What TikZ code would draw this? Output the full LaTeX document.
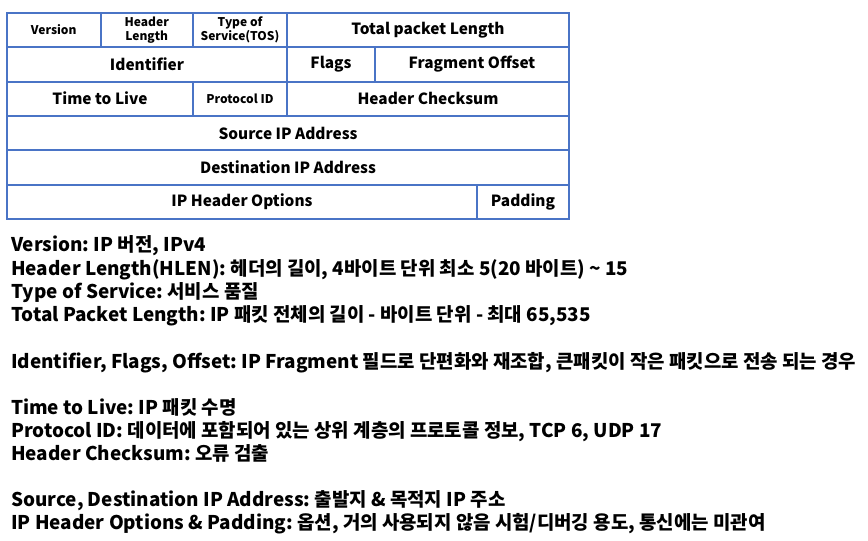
\documentclass[tikz,border=0pt]{standalone}
\usepackage{fontspec}
\setmainfont{Noto Sans CJK KR}
\usepackage{xcolor}
\definecolor{fieldblue}{HTML}{4A74C6}
\usepackage{tikz}
\usetikzlibrary{positioning}
\frenchspacing

\begin{document}
\begin{tikzpicture}[x=1pt, y=-1pt,
  cell/.style={draw=fieldblue, line width=2pt, minimum height=34.4pt,
               inner sep=0pt, outer sep=0pt, align=center,
               font=\bfseries\fontsize{15.4}{16}\selectfont},
  small/.style={font=\bfseries\fontsize{12}{13.5}\selectfont},
  note/.style={anchor=base west, inner sep=0pt,
               font=\bfseries\fontsize{18.9}{20}\selectfont}]
  \useasboundingbox (0,0) rectangle (868,541);

  % header rows
  \node[cell, small, minimum width=93.5pt, anchor=north west] (ver) at (7,12.7) {Version};
  \node[cell, small, minimum width=92.5pt, right=0pt of ver] (hlen) {Header\\Length};
  \node[cell, small, minimum width=94pt, right=0pt of hlen] (tos) {Type of\\Service(TOS)};
  \node[cell, minimum width=282pt, right=0pt of tos] (total) {Total packet Length};

  \node[cell, minimum width=280pt, below=0pt of ver.south west, anchor=north west] (ident) {Identifier};
  \node[cell, minimum width=88pt, right=0pt of ident] (flags) {Flags};
  \node[cell, minimum width=194pt, right=0pt of flags] (frag) {Fragment Offset};

  \node[cell, minimum width=186pt, below=0pt of ident.south west, anchor=north west] (ttl) {Time to Live};
  \node[cell, small, minimum width=94pt, right=0pt of ttl] (proto) {Protocol ID};
  \node[cell, minimum width=282pt, right=0pt of proto] (csum) {Header Checksum};

  \node[cell, minimum width=562pt, below=0pt of ttl.south west, anchor=north west] (src) {Source IP Address};
  \node[cell, minimum width=562pt, below=0pt of src] (dst) {Destination IP Address};

  \node[cell, minimum width=470pt, below=0pt of dst.south west, anchor=north west] (opts) {IP Header Options};
  \node[cell, minimum width=92pt, right=0pt of opts] (pad) {Padding};

  % notes
  \node[note] (n1) at (11,251.5) {Version: IP 버전, IPv4};
  \node[note] (n2) at (11,275.5) {Header Length(HLEN): 헤더의 길이, 4바이트 단위 최소 5(20 바이트) \textasciitilde{} 15};
  \node[note] (n3) at (11,298.5) {Type of Service: 서비스 품질};
  \node[note] (n4) at (11,321.5) {Total Packet Length: IP 패킷 전체의 길이 - 바이트 단위 - 최대 65,535};
  \node[note] (n5) at (11,368) {Identifier, Flags, Offset: IP Fragment 필드로 단편화와 재조합, 큰패킷이 작은 패킷으로 전송 되는 경우};
  \node[note] (n6) at (11,414.5) {Time to Live: IP 패킷 수명};
  \node[note] (n7) at (11,437.5) {Protocol ID: 데이터에 포함되어 있는 상위 계층의 프로토콜 정보, TCP 6, UDP 17};
  \node[note] (n8) at (11,460.5) {Header Checksum: 오류 검출};
  \node[note] (n9) at (11,506.5) {Source, Destination IP Address: 출발지 \& 목적지 IP 주소};
  \node[note] (n10) at (11,529.5) {IP Header Options \& Padding: 옵션, 거의 사용되지 않음 시험/디버깅 용도, 통신에는 미관여};
\end{tikzpicture}
\end{document}
